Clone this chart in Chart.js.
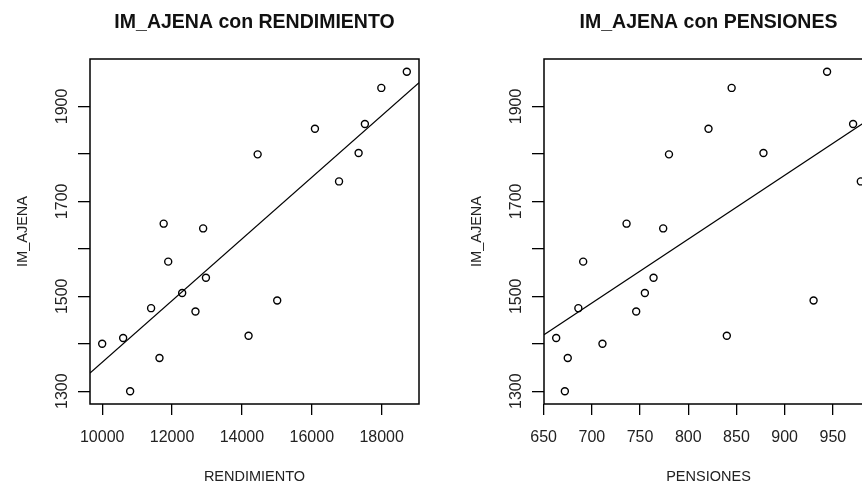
<!DOCTYPE html>
<html>
<head>
<meta charset="utf-8">
<script src="https://cdn.jsdelivr.net/npm/chart.js@4"></script>
<style>
  html, body { margin: 0; padding: 0; background: #fff; overflow: hidden; width: 862px; height: 484px; }
  .panel { position: absolute; top: 0; width: 454px; height: 484px; }
</style>
</head>
<body>
<div class="panel" style="left:0"><canvas id="chartRend" width="454" height="484"></canvas></div>
<div class="panel" style="left:454px"><canvas id="chartPens" width="454" height="484"></canvas></div>
<script>
const imAjena     = [1400, 1412, 1300, 1475, 1370, 1653, 1573, 1507, 1468, 1643, 1539, 1417, 1799, 1491, 1853, 1742, 1802, 1863, 1939, 1973];
const rendimiento = [10000, 10600, 10800, 11400, 11640, 11760, 11890, 12290, 12670, 12890, 12970, 14190, 14450, 15010, 16090, 16780, 17340, 17520, 17990, 18720];
const pensiones   = [711, 663, 672, 686, 675, 736, 691, 755, 746, 774, 764, 840, 780, 930, 821, 979, 878, 971, 845, 944];

const rendTicks = [10000, 12000, 14000, 16000, 18000];
const pensTicks = [650, 700, 750, 800, 850, 900, 950];
const yLabels   = [1300, 1500, 1700, 1900];

const fam = "'Liberation Sans', Arial, sans-serif";

// R style axis limits: data range widened by 4% each side
function rLimits(v) {
    const lo = Math.min(...v), hi = Math.max(...v);
    const d = (hi - lo) * 0.04;
    return [lo - d, hi + d];
}

// least squares line, like abline(lm(y ~ x))
function fit(xs, ys) {
    const n = xs.length;
    const mx = xs.reduce((a, b) => a + b, 0) / n;
    const my = ys.reduce((a, b) => a + b, 0) / n;
    let sxy = 0, sxx = 0;
    for (let i = 0; i < n; i++) {
        sxy += (xs[i] - mx) * (ys[i] - my);
        sxx += (xs[i] - mx) * (xs[i] - mx);
    }
    const b = sxy / sxx;
    return { a: my - b * mx, b: b };
}

const boxPlugin = {
    id: 'box',
    afterDraw(chart) {
        const a = chart.chartArea;
        const ctx = chart.ctx;
        ctx.save();
        ctx.strokeStyle = '#000';
        ctx.lineWidth = 1.5;
        ctx.strokeRect(a.left, a.top, a.right - a.left, a.bottom - a.top);
        ctx.restore();
    }
};

function makeChart(id, xs, xTicks, xName, title) {
    const xl = rLimits(xs);
    const yl = rLimits(imAjena);
    const lm = fit(xs, imAjena);
    const pts = xs.map((x, i) => ({ x: x, y: imAjena[i] }));

    return new Chart(document.getElementById(id), {
        type: 'scatter',
        data: {
            datasets: [{
                data: pts,
                pointStyle: 'circle',
                pointRadius: 3.5,
                pointHoverRadius: 3.5,
                pointBorderWidth: 1.4,
                borderColor: '#000',
                backgroundColor: 'rgba(0,0,0,0)'
            }, {
                type: 'line',
                data: [{ x: xl[0], y: lm.a + lm.b * xl[0] }, { x: xl[1], y: lm.a + lm.b * xl[1] }],
                borderColor: '#000',
                borderWidth: 1.2,
                pointRadius: 0,
                fill: false
            }]
        },
        options: {
            responsive: false,
            animation: false,
            layout: { padding: { top: 0, right: 35, left: 0, bottom: 0 } },
            plugins: {
                legend: { display: false },
                tooltip: { enabled: false },
                title: {
                    display: true,
                    text: title,
                    fullSize: false,
                    color: '#111',
                    font: { family: fam, size: 19.5, weight: 'bold' },
                    padding: { top: 10.5, bottom: 25.1 }
                }
            },
            scales: {
                x: {
                    type: 'linear',
                    min: xl[0],
                    max: xl[1],
                    afterBuildTicks: s => { s.ticks = xTicks.map(v => ({ value: v })); },
                    afterFit: s => { s.height = 80; },
                    grid: { drawOnChartArea: false, drawTicks: true, tickLength: 11, color: '#000', lineWidth: 1.3 },
                    border: { display: false },
                    ticks: {
                        color: '#222',
                        font: { family: fam, size: 16 },
                        padding: 13,
                        maxRotation: 0,
                        autoSkip: false,
                        callback: v => String(v)
                    },
                    title: { display: true, text: xName, color: '#222', font: { family: fam, size: 14.5 }, padding: { top: 0, bottom: -2 } }
                },
                y: {
                    type: 'linear',
                    min: yl[0],
                    max: yl[1],
                    afterBuildTicks: s => {
                        const t = [];
                        for (let v = 1300; v <= 1900; v += 100) t.push({ value: v });
                        s.ticks = t;
                    },
                    afterFit: s => { s.width = 90; },
                    grid: { drawOnChartArea: false, drawTicks: true, tickLength: 12, color: '#000', lineWidth: 1.3 },
                    border: { display: false },
                    ticks: {
                        color: '#222',
                        font: { family: fam, size: 16 },
                        minRotation: 90,
                        maxRotation: 90,
                        crossAlign: 'center',
                        padding: -2.5,
                        autoSkip: false,
                        callback: v => yLabels.includes(v) ? String(v) : ''
                    },
                    title: { display: true, text: 'IM_AJENA', color: '#222', font: { family: fam, size: 14.5 }, padding: { top: 14.5, bottom: 0 } }
                }
            }
        },
        plugins: [boxPlugin]
    });
}

makeChart('chartRend', rendimiento, rendTicks, 'RENDIMIENTO', 'IM_AJENA con RENDIMIENTO');
makeChart('chartPens', pensiones, pensTicks, 'PENSIONES', 'IM_AJENA con PENSIONES');
</script>
</body>
</html>
